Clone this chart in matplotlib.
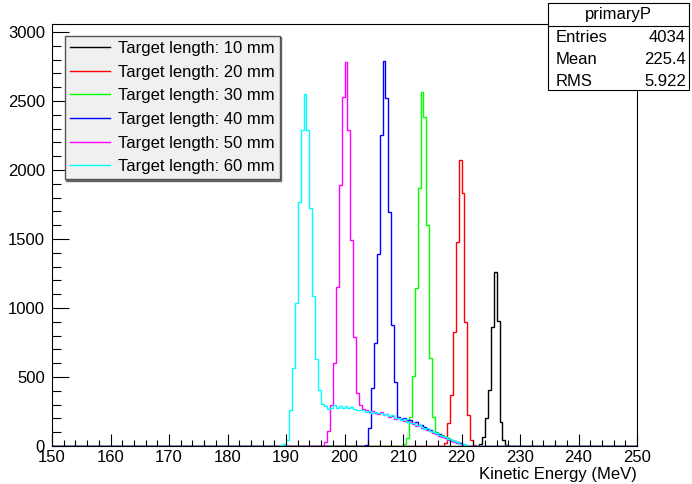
import numpy as np
import matplotlib
matplotlib.use('Agg')
import matplotlib.pyplot as plt
from matplotlib.patches import Rectangle
from matplotlib.lines import Line2D

plt.rcParams['font.family'] = ['Liberation Sans', 'DejaVu Sans']

# histogram binning: 200 bins of 0.5 MeV between 150 and 250 MeV
x_min, x_max, bin_w = 150.0, 250.0, 0.5

labels = ["Target length: 10 mm", "Target length: 20 mm", "Target length: 30 mm",
          "Target length: 40 mm", "Target length: 50 mm", "Target length: 60 mm"]
colors = ["#000000", "#ff0000", "#00ff00", "#0000ff", "#ff00ff", "#00ffff"]

# first non-empty bin (lower edge, MeV) and counts per bin
black_start = 223.0
black_counts = [15, 68, 200, 406, 860, 1263, 908, 176, 43, 8]

red_start = 217.0
red_counts = [20, 164, 370, 828, 1480, 2072, 1831, 896, 225, 43, 6]

green_start = 210.0
green_counts = [15, 60, 210, 510, 1143, 1867, 2568, 2387, 1601, 635, 213,
                100, 88, 78, 66, 56, 46, 36, 28, 20, 13, 7, 3, 1]

blue_start = 203.5
blue_counts = [10, 130, 420, 744, 1391, 2254, 2792, 2519, 1698, 877, 466, 213,
               196, 200, 186, 190, 168, 172, 150, 152, 136, 124, 118, 104, 96,
               84, 74, 64, 54, 44, 36, 28, 20, 12, 7, 3, 1]

magenta_start = 196.5
magenta_counts = [30, 110, 300, 601, 1154, 1891, 2531, 2785, 2290, 1490, 792, 382, 298,
                  270, 262, 248, 256, 238, 230, 244, 222, 230, 212,
                  220, 198, 204, 190, 180, 172, 176, 158, 148, 150,
                  132, 124, 118, 108, 96, 86, 76, 66, 56, 46,
                  36, 28, 20, 13, 7, 3, 1]

cyan_start = 189.0
cyan_counts = [5, 12, 43, 261, 563, 1034, 1770, 2290, 2551, 2290, 1722, 1089, 630, 406, 304,
               290, 270, 278, 296, 272, 288, 278, 292, 272, 280,
               266, 262, 258, 262, 250, 252, 242, 246, 236, 240,
               228, 232, 214, 224, 200, 206, 186, 196, 176, 168,
               170, 152, 150, 138, 126, 128, 110, 100, 92, 80,
               72, 62, 52, 44, 34, 26, 18, 12, 6, 3, 1]

starts = [black_start, red_start, green_start, blue_start, magenta_start, cyan_start]
counts = [black_counts, red_counts, green_counts, blue_counts, magenta_counts, cyan_counts]

stats_name = "primaryP"
stats_rows = [("Entries", "4034"), ("Mean", "225.4"), ("RMS", "5.922")]

edges = np.arange(x_min, x_max + bin_w / 2, bin_w)
n_bins = len(edges) - 1


def fill(start, vals):
    h = np.zeros(n_bins)
    i0 = int(round((start - x_min) / bin_w))
    h[i0:i0 + len(vals)] = vals
    return h


W, H = 692, 484
fig = plt.figure(figsize=(W / 100, H / 100), dpi=100)


def fx(x):
    return x / W


def fy(y):
    return 1 - y / H


ax = fig.add_axes([fx(52), fy(446), fx(637) - fx(52), fy(24) - fy(446)])

for start, vals, col in zip(starts, counts, colors):
    ax.stairs(fill(start, vals), edges, color=col, lw=1.0)

ax.set_xlim(x_min, x_max)
ax.set_ylim(0, 3058)
ax.set_xticks(np.arange(150, 251, 10))
ax.set_xticks(np.arange(150, 251, 2), minor=True)
ax.set_yticks(np.arange(0, 3001, 500))
ax.set_yticks(np.arange(0, 3001, 100), minor=True)
ax.tick_params(axis='x', which='major', direction='in', length=9, width=0.8, labelsize=12, pad=3)
ax.tick_params(axis='x', which='minor', direction='in', length=4.5, width=0.8)
ax.tick_params(axis='y', which='major', direction='in', length=12.5, width=0.8, labelsize=12, pad=5)
ax.tick_params(axis='y', which='minor', direction='in', length=6.3, width=0.8)
for s in ax.spines.values():
    s.set_linewidth(0.8)

ax.set_xlabel("Kinetic Energy (MeV)", loc='right', fontsize=12, labelpad=1)

handles = [Line2D([], [], color=c, lw=1.0) for c in colors]
leg = ax.legend(handles, labels, loc='upper left', bbox_to_anchor=(fx(65), fy(36)),
                bbox_transform=fig.transFigure, borderaxespad=0, fontsize=12,
                labelspacing=0.52, handlelength=2.4, handletextpad=0.5, borderpad=0.3,
                fancybox=False, framealpha=1,
                shadow={'color': '#666666', 'alpha': 1, 'ox': 1, 'oy': -1})
leg.get_frame().set_facecolor('#f0f0f0')
leg.get_frame().set_edgecolor('#555555')
leg.get_frame().set_linewidth(1.0)

# stats box
fig.add_artist(Rectangle((fx(548), fy(90)), fx(689) - fx(548), fy(3) - fy(90),
                         transform=fig.transFigure, facecolor='white', edgecolor='black',
                         lw=0.8, zorder=5))
fig.add_artist(Line2D([fx(548), fx(689)], [fy(26), fy(26)], transform=fig.transFigure,
                      color='black', lw=0.8, zorder=6))
fig.text(fx(618), fy(15), stats_name, ha='center', va='center', fontsize=12, zorder=7)
for i, (name, val) in enumerate(stats_rows):
    y = 37 + i * 22
    fig.text(fx(556), fy(y), name, ha='left', va='center', fontsize=12, zorder=7)
    fig.text(fx(686), fy(y), val, ha='right', va='center', fontsize=12, zorder=7)

fig.savefig("out.png", dpi=100)
